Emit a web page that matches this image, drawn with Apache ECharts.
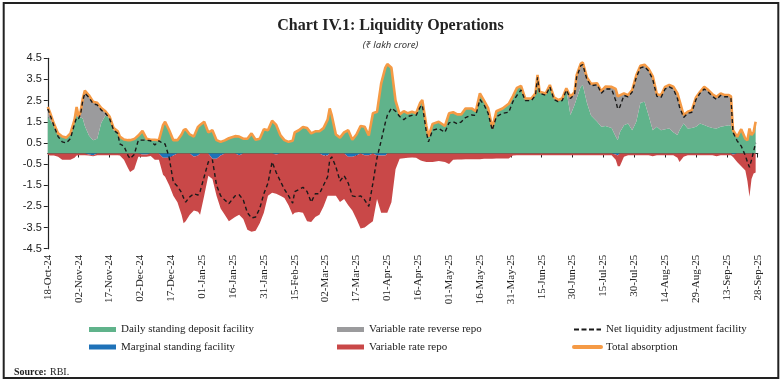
<!DOCTYPE html>
<html><head><meta charset="utf-8">
<script src="https://cdn.jsdelivr.net/npm/echarts@6/dist/echarts.min.js"></script>
<style>html,body{margin:0;padding:0;background:#fff}#c{width:781px;height:382px}</style>
</head><body><div id="c"></div>
<script>
// x-axis tick labels (every 15 days from 18-Oct-24)
const tickLabels = ['18-Oct-24','02-Nov-24','17-Nov-24','02-Dec-24','17-Dec-24','01-Jan-25','16-Jan-25','31-Jan-25','15-Feb-25','02-Mar-25','17-Mar-25','01-Apr-25','16-Apr-25','01-May-25','16-May-25','31-May-25','15-Jun-25','30-Jun-25','15-Jul-25','30-Jul-25','14-Aug-25','29-Aug-25','13-Sep-25','28-Sep-25'];
const yTicks = [-4.5,-3.5,-2.5,-1.5,-0.5,0.5,1.5,2.5,3.5,4.5];

// sample days (days since 18-Oct-24)
const days = [0,1,3,5,7,9,11,13,14,15,
16,17,18,20,22,24,26,28,30,32,
34,35,37,39,40,42,44,46,48,50,
52,54,56,57,59,61,63,65,66,67,
69,71,73,74,76,78,80,82,84,86,
88,91,93,95,97,99,101,103,105,107,
109,111,113,115,117,119,120,122,124,126,
128,130,132,134,136,137,138,140,142,144,
146,148,150,152,154,156,158,160,162,164,
165,167,169,171,173,175,177,179,181,182,
184,185,187,190,193,195,197,199,201,203,
206,208,210,212,214,216,218,221,224,226,
228,230,232,235,237,238,239,242,244,246,
248,250,252,254,256,257,259,260,262,264,
267,269,271,274,276,277,278,280,282,284,
286,288,290,292,294,296,298,300,302,304,
306,307,309,311,313,315,317,319,321,323,
325,327,329,331,332,333,335,337,339,340,
341,342,343,344];

// Total absorption (₹ lakh crore)
const total = [2.2,1.95,1.4,0.95,0.8,0.75,0.95,1.6,2.2,1.75,
2.0,2.6,2.97,2.75,2.45,2.4,2.15,2.0,1.75,1.2,
1.05,0.8,0.66,0.63,0.63,0.68,0.85,1.07,0.7,0.65,
0.65,0.63,1.34,1.5,1.1,0.63,0.63,0.9,1.1,1.15,
0.9,0.8,1.26,1.35,1.5,1.0,1.1,0.63,0.55,0.62,
0.72,0.82,0.8,0.7,0.7,0.95,0.65,0.7,1.15,1.1,
1.55,1.35,0.87,0.63,0.55,0.6,1.0,1.1,1.25,1.2,
0.95,1.05,1.05,1.2,1.6,2.13,1.8,0.9,0.75,1.0,
1.1,0.65,0.9,1.3,1.26,0.85,1.9,1.97,3.3,4.05,
4.23,4.05,2.5,1.85,2.0,1.9,1.97,1.9,2.4,2.53,
1.3,0.8,1.4,1.5,1.3,1.9,1.95,1.85,1.85,2.13,
2.13,2.0,2.84,2.5,2.15,1.2,2.0,2.13,2.35,2.7,
3.1,3.2,2.6,2.6,2.84,3.71,2.92,2.84,3.24,2.65,
2.53,2.6,3.08,2.68,2.9,3.7,4.25,4.3,3.6,3.3,
3.32,2.95,3.16,3.15,3.05,2.7,2.75,2.84,2.76,3.0,
3.7,4.15,4.2,4.0,3.65,2.8,2.75,3.15,3.24,3.16,
2.84,2.5,1.82,1.97,2.05,2.65,2.92,3.15,3.0,2.8,
2.68,2.84,2.76,2.76,2.7,1.1,0.79,1.15,0.7,0.63,
1.18,0.87,1.0,1.5];

// Daily standing deposit facility
const sdf = [1.75,1.6,1.3,0.95,0.8,0.75,0.95,1.6,1.8,1.7,
1.7,1.66,1.3,0.85,0.63,0.7,1.45,1.8,1.68,1.1,
0.95,0.8,0.66,0.63,0.63,0.68,0.85,1.07,0.7,0.65,
0.65,0.63,1.34,1.5,1.1,0.63,0.63,0.9,1.1,1.15,
0.9,0.8,1.26,1.35,1.5,1.0,1.1,0.63,0.55,0.62,
0.72,0.82,0.8,0.7,0.7,0.95,0.65,0.7,1.15,1.1,
1.55,1.35,0.87,0.63,0.55,0.6,1.0,1.1,1.25,1.2,
0.95,1.05,1.05,1.2,1.6,2.13,1.8,0.9,0.75,1.0,
1.1,0.65,0.9,1.3,1.26,0.85,1.9,1.97,3.3,4.05,
4.23,4.05,2.5,1.85,2.0,1.9,1.97,1.9,2.4,2.53,
1.3,0.8,1.4,1.5,1.3,1.9,1.95,1.85,1.85,2.13,
2.13,2.0,2.84,2.5,2.15,1.2,2.0,2.13,2.35,2.7,
3.1,3.2,2.6,2.6,2.84,3.71,2.92,2.84,3.24,2.65,
2.53,2.6,3.0,1.82,2.3,2.6,3.16,3.24,2.4,1.8,
1.5,1.26,1.3,1.2,0.8,0.63,1.0,1.34,1.42,1.1,
1.5,2.4,2.45,1.8,1.1,1.26,1.1,1.15,1.18,1.0,
0.87,1.1,1.42,1.18,1.2,1.26,1.42,1.35,1.26,1.2,
1.18,1.26,1.3,1.34,1.3,1.0,0.79,1.15,0.7,0.63,
1.18,0.87,1.0,1.5];

// Variable rate reverse repo
const vrrr = [0.45,0.35,0.1,0,0,0,0,0,0.4,0.05,
0.3,0.94,1.67,1.9,1.82,1.7,0.7,0.2,0.07,0.1,
0.1,0,0,0,0,0,0,0,0,0,
0,0,0,0,0,0,0,0,0,0,
0,0,0,0,0,0,0,0,0,0,
0,0,0,0,0,0,0,0,0,0,
0,0,0,0,0,0,0,0,0,0,
0,0,0,0,0,0,0,0,0,0,
0,0,0,0,0,0,0,0,0,0,
0,0,0,0,0,0,0,0,0,0,
0,0,0,0,0,0,0,0,0,0,
0,0,0,0,0,0,0,0,0,0,
0,0,0,0,0,0,0,0,0,0,
0,0,0.08,0.86,0.6,1.1,1.09,1.06,1.2,1.5,
1.82,1.69,1.86,1.95,2.25,2.07,1.75,1.5,1.34,1.9,
2.2,1.75,1.75,2.2,2.55,1.54,1.65,2.0,2.06,2.16,
1.97,1.4,0.4,0.79,0.85,1.39,1.5,1.8,1.74,1.6,
1.5,1.58,1.46,1.42,1.4,0.1,0,0,0,0,
0,0,0,0];

// Marginal standing facility
const msf = [0,0,0,0,0,0,0,0,0,0,
0,0,0,-0.05,-0.08,0,0,0,0,0,
0,0,0,0,0,0,0,-0.05,-0.05,0,
0,0,-0.2,-0.2,-0.2,-0.1,0,0,0,0,
0,-0.15,-0.1,0,0,0,-0.25,-0.25,-0.1,0,
0,0,-0.08,0,0,0,0,0,0,0,
0,-0.05,0,0,0,0,0,0,0,0,
0,0,0,-0.1,-0.1,0,0,0,0,0,
-0.15,-0.15,-0.1,0,-0.08,-0.08,0,-0.1,-0.1,-0.1,
0,0,0,0,0,0,0,0,0,0,
0,0,0,0,0,0,0,0,0,0,
0,0,0,0,0,0,0,0,0,0,
0,0,0,0,0,0,0,0,0,0,
0,0,0,0,0,0,0,0,0,0,
0,0,0,0,-0.05,-0.1,0,0,0,0,
0,0,0,0,0,0,0,0,0,0,
0,0,0,0,0,0,0,0,0,0,
0,0,0,0,0,-0.05,0,0,0,0,
0,0,0,0];

// Variable rate repo
const vrr = [-0.05,-0.1,-0.1,-0.15,-0.3,-0.3,-0.3,-0.2,-0.1,-0.08,
-0.08,-0.08,-0.08,-0.05,-0.05,-0.08,-0.08,-0.08,-0.08,-0.08,
-0.08,-0.1,-0.3,-0.7,-0.87,-0.75,-0.15,-0.1,-0.1,-0.12,
-0.3,-0.3,-0.8,-0.9,-1.3,-1.9,-2.3,-2.9,-3.3,-3.2,
-2.9,-2.55,-2.65,-2.9,-2.0,-1.05,-0.95,-1.75,-2.5,-2.9,
-3.2,-3.0,-2.82,-3.1,-3.6,-3.7,-3.65,-3.3,-2.8,-2.0,
-1.85,-1.85,-2.0,-2.1,-2.45,-2.9,-2.8,-2.76,-2.8,-3.2,
-3.24,-3.0,-2.9,-2.4,-1.9,-2.0,-2.0,-2.0,-2.29,-2.15,
-2.3,-2.55,-3.0,-3.55,-3.42,-3.27,-3.2,-2.05,-2.7,-2.7,
-2.8,-2.3,-0.75,-0.25,-0.22,-0.2,-0.19,-0.2,-0.32,-0.35,
-0.4,-0.4,-0.4,-0.35,-0.4,-0.5,-0.3,-0.28,-0.28,-0.27,
-0.27,-0.27,-0.27,-0.25,-0.25,-0.25,-0.24,-0.24,-0.24,-0.1,
-0.08,-0.08,-0.08,-0.08,-0.08,-0.08,-0.08,-0.08,-0.08,-0.08,
-0.08,-0.08,-0.08,-0.08,-0.08,-0.08,-0.08,-0.08,-0.08,-0.08,
-0.08,-0.08,-0.08,-0.08,-0.25,-0.5,-0.6,-0.15,-0.08,-0.08,
-0.08,-0.08,-0.08,-0.08,-0.13,-0.08,-0.08,-0.08,-0.08,-0.08,
-0.2,-0.4,-0.15,-0.08,-0.08,-0.08,-0.08,-0.08,-0.08,-0.08,
-0.13,-0.08,-0.08,-0.08,-0.08,-0.11,-0.4,-0.6,-0.8,-1.3,
-2.05,-1.2,-0.95,-0.9];

// Net liquidity adjustment facility
const nlaf = [2.1,1.85,1.3,0.8,0.55,0.5,0.7,1.4,1.7,1.65,
1.9,2.5,2.85,2.65,2.35,2.3,2.05,1.9,1.65,1.1,
0.95,0.45,0.35,-0.1,-0.24,-0.05,0.63,0.63,0.63,0.6,
0.4,0.6,0.47,0.45,-0.2,-1.35,-1.55,-1.85,-2.1,-2.3,
-2.05,-1.9,-1.97,-1.8,-1.1,-0.4,-0.3,-1.5,-2.0,-2.2,
-2.37,-2.0,-1.95,-2.2,-2.8,-3.05,-3.0,-2.6,-1.9,-1.4,
-0.4,-0.9,-1.3,-1.7,-2.0,-2.35,-1.8,-1.7,-1.6,-1.8,
-2.3,-1.9,-1.9,-1.5,-1.1,-0.3,-0.16,-0.63,-1.3,-1.05,
-1.4,-2.0,-2.05,-2.0,-2.2,-2.5,-1.4,-0.2,0.6,1.45,
1.8,2.15,2.0,1.75,1.6,1.75,1.8,1.8,2.2,2.29,
1.0,0.55,1.1,1.18,1.0,1.45,1.5,1.4,1.5,1.7,
1.82,1.8,2.55,2.3,1.9,1.1,1.74,1.9,1.95,2.45,
2.75,3.0,2.5,2.5,2.75,3.6,2.85,2.75,3.15,2.55,
2.45,2.5,3.0,2.6,2.8,3.6,4.15,4.2,3.5,3.2,
3.25,2.85,3.05,3.05,2.5,2.1,2.2,2.75,2.68,2.9,
3.6,4.05,4.1,3.9,3.5,2.7,2.65,3.05,3.15,3.05,
2.6,2.2,1.7,1.9,1.95,2.55,2.85,3.05,2.9,2.7,
2.55,2.75,2.68,2.68,2.6,1.0,0.6,0.35,-0.1,-0.4,
-0.65,-0.3,0.1,0.5];

const C = {sdf:'#60b38b', vrrr:'#9b9b9d', msf:'#1f72b8', vrr:'#c94848', nlaf:'#1a1a1a', total:'#f59a45'};
// value first, day second, so that stacking happens on the value dimension
const pts = arr => days.map((d, i) => [arr[i], d]);
const enc = {x:1, y:0};
const areaSeries = (name, arr, stack, color) => ({
  name, type:'line', stack, data: pts(arr), encode: enc, symbol:'none', showSymbol:false,
  lineStyle:{width:0, opacity:0}, itemStyle:{color}, areaStyle:{color, opacity:1}, z:2
});

const chart = echarts.init(document.getElementById('c'), null, {renderer:'canvas'});
const serif = 'Liberation Serif';
const legendText = {fontFamily:serif, fontSize:11, color:'#222'};
chart.setOption({
  animation:false,
  backgroundColor:'#fff',
  title:[
    {text:'Chart IV.1: Liquidity Operations', left:'center', top:13,
     textStyle:{fontFamily:serif, fontWeight:'bold', fontSize:16, color:'#222'}},
    {text:'(₹ lakh crore)', left:'center', top:35,
     textStyle:{fontFamily:'Noto Sans', fontStyle:'italic', fontWeight:'normal', fontSize:9.5, color:'#333'}}
  ],
  grid:{left:47.8, right:23.3, top:58.3, bottom:133.3, containLabel:false},
  xAxis:[
    {type:'value', min:0, max:345, interval:15, position:'bottom',
     axisLine:{show:false, onZero:false}, axisTick:{show:false}, splitLine:{show:false},
     axisLabel:{rotate:90, margin:6, fontFamily:serif, fontSize:11, color:'#222',
       formatter: v => tickLabels[Math.round(v / 15)] || ''}},
    {type:'value', min:0, max:345, interval:15, position:'top',
     axisLine:{show:true, onZero:true, lineStyle:{color:'#222', width:1.2}},
     axisTick:{show:true, inside:true, length:4, lineStyle:{color:'#222', width:1}},
     axisLabel:{show:false}, splitLine:{show:false}}
  ],
  yAxis:{type:'value', min:-4.5, max:4.5, interval:1,
    axisLine:{show:true, onZero:false, lineStyle:{color:'#222', width:1.2}},
    axisTick:{show:true, length:4, lineStyle:{color:'#222'}},
    splitLine:{show:false},
    axisLabel:{margin:6, fontFamily:'Liberation Sans', fontSize:11, color:'#222',
      formatter: v => String(yTicks.find(t => Math.abs(t - v) < 1e-6) ?? v)}},
  legend:[
    {left:84, top:319, orient:'vertical', itemGap:6.5, itemWidth:27, itemHeight:5, selectedMode:false,
     textStyle:legendText,
     data:[{name:'Daily standing deposit facility', icon:'rect'},{name:'Marginal standing facility', icon:'rect'}]},
    {left:332, top:319, orient:'vertical', itemGap:6.5, itemWidth:27, itemHeight:5, selectedMode:false,
     textStyle:legendText,
     data:[{name:'Variable rate reverse repo', icon:'rect'},{name:'Variable rate repo', icon:'rect'}]},
    {left:567, top:319, orient:'vertical', itemGap:6.5, itemWidth:27, itemHeight:5, selectedMode:false,
     textStyle:legendText,
     data:[{name:'Net liquidity adjustment facility', itemStyle:{opacity:0}, lineStyle:{width:2, type:[5,2.5]}},
           {name:'Total absorption', itemStyle:{opacity:0}, lineStyle:{width:4, cap:'round'}}]}
  ],
  series:[
    areaSeries('Daily standing deposit facility', sdf, 'pos', C.sdf),
    areaSeries('Variable rate reverse repo', vrrr, 'pos', C.vrrr),
    areaSeries('Marginal standing facility', msf, 'neg', C.msf),
    areaSeries('Variable rate repo', vrr, 'neg', C.vrr),
    {name:'Total absorption', type:'line', data:pts(total), encode:enc, symbol:'none', showSymbol:false,
     itemStyle:{color:C.total}, lineStyle:{color:C.total, width:2.6}, z:3},
    {name:'Net liquidity adjustment facility', type:'line', data:pts(nlaf), encode:enc, symbol:'none', showSymbol:false,
     itemStyle:{color:C.nlaf}, lineStyle:{color:C.nlaf, width:1.4, type:[4,3]}, z:4}
  ],
  graphic:[
    {type:'rect', shape:{x:3.7, y:3, width:774.6, height:375}, style:{fill:'none', stroke:'#222', lineWidth:2}, silent:true},
    {type:'text', left:14, top:367, style:{text:'Source:', font:'bold 10px "Liberation Serif"', fill:'#222'}},
    {type:'text', left:50, top:367, style:{text:'RBI.', font:'10px "Liberation Serif"', fill:'#222'}}
  ]
});
</script>
</body></html>
